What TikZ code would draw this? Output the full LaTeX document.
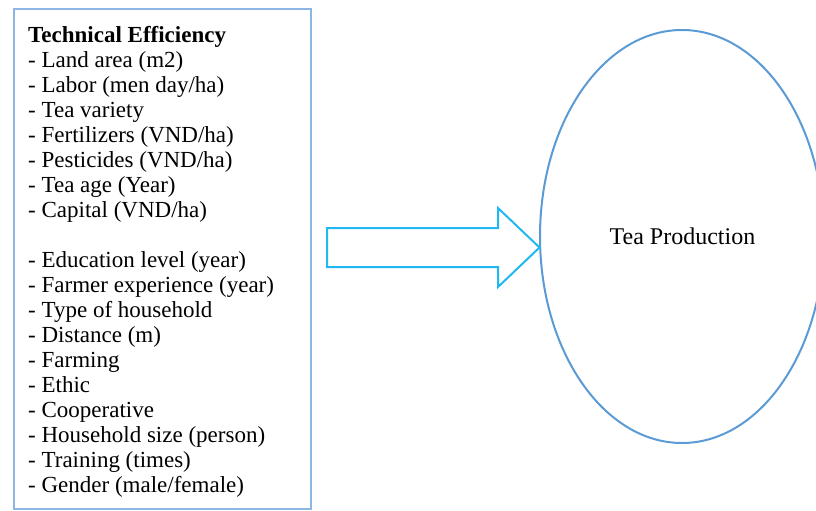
\documentclass[tikz,border=0pt]{standalone}
\usepackage{fontspec}
\setmainfont{Liberation Serif}
\usetikzlibrary{shapes.geometric}
\definecolor{boxblue}{HTML}{8EB6E4}
\definecolor{ellblue}{HTML}{5B9BD5}
\definecolor{arrcyan}{HTML}{20B8F0}
\tikzset{
  listbox/.style={draw=boxblue, line width=1.6pt, minimum width=297pt, minimum height=500pt, inner sep=0pt},
  listtext/.style={align=left, inner sep=0pt, anchor=base west, font=\fontsize{23}{25}\selectfont},
  goal/.style={ellipse, draw=ellblue, line width=2pt, minimum width=284pt, minimum height=413pt, inner sep=0pt},
  bigarrow/.style={draw=arrcyan, line width=2pt, line join=miter}
}
\begin{document}
\begin{tikzpicture}[x=1pt, y=-1pt]
\useasboundingbox (0,0) rectangle (816,511);
\clip (0,0) rectangle (816,511);
\node[listbox, anchor=north west] (box) at (13,8) {};
\node[listtext, anchor=north west] (list) at (28,26.5) {\textbf{Technical Efficiency}\\
- Land area (m2)\\
- Labor (men day/ha)\\
- Tea variety\\
- Fertilizers (VND/ha)\\
- Pesticides (VND/ha)\\
- Tea age (Year)\\
- Capital (VND/ha)\\[25pt]
- Education level (year)\\
- Farmer experience (year)\\
- Type of household\\
- Distance (m)\\
- Farming\\
- Ethic\\
- Cooperative\\
- Household size (person)\\
- Training (times)\\
- Gender (male/female)};
\node[goal] (prod) at (682,236.5) {};
\node[font=\fontsize{24}{26}\selectfont, anchor=base, inner sep=0pt] (prodlabel) at (682.5,244) {Tea Production};
\coordinate (tip) at (539.5,247.5);
\draw[bigarrow] (327,228) -- (498,228) -- (498,208) -- (tip) -- (498,287) -- (498,267) -- (327,267) -- cycle;
\end{tikzpicture}
\end{document}
